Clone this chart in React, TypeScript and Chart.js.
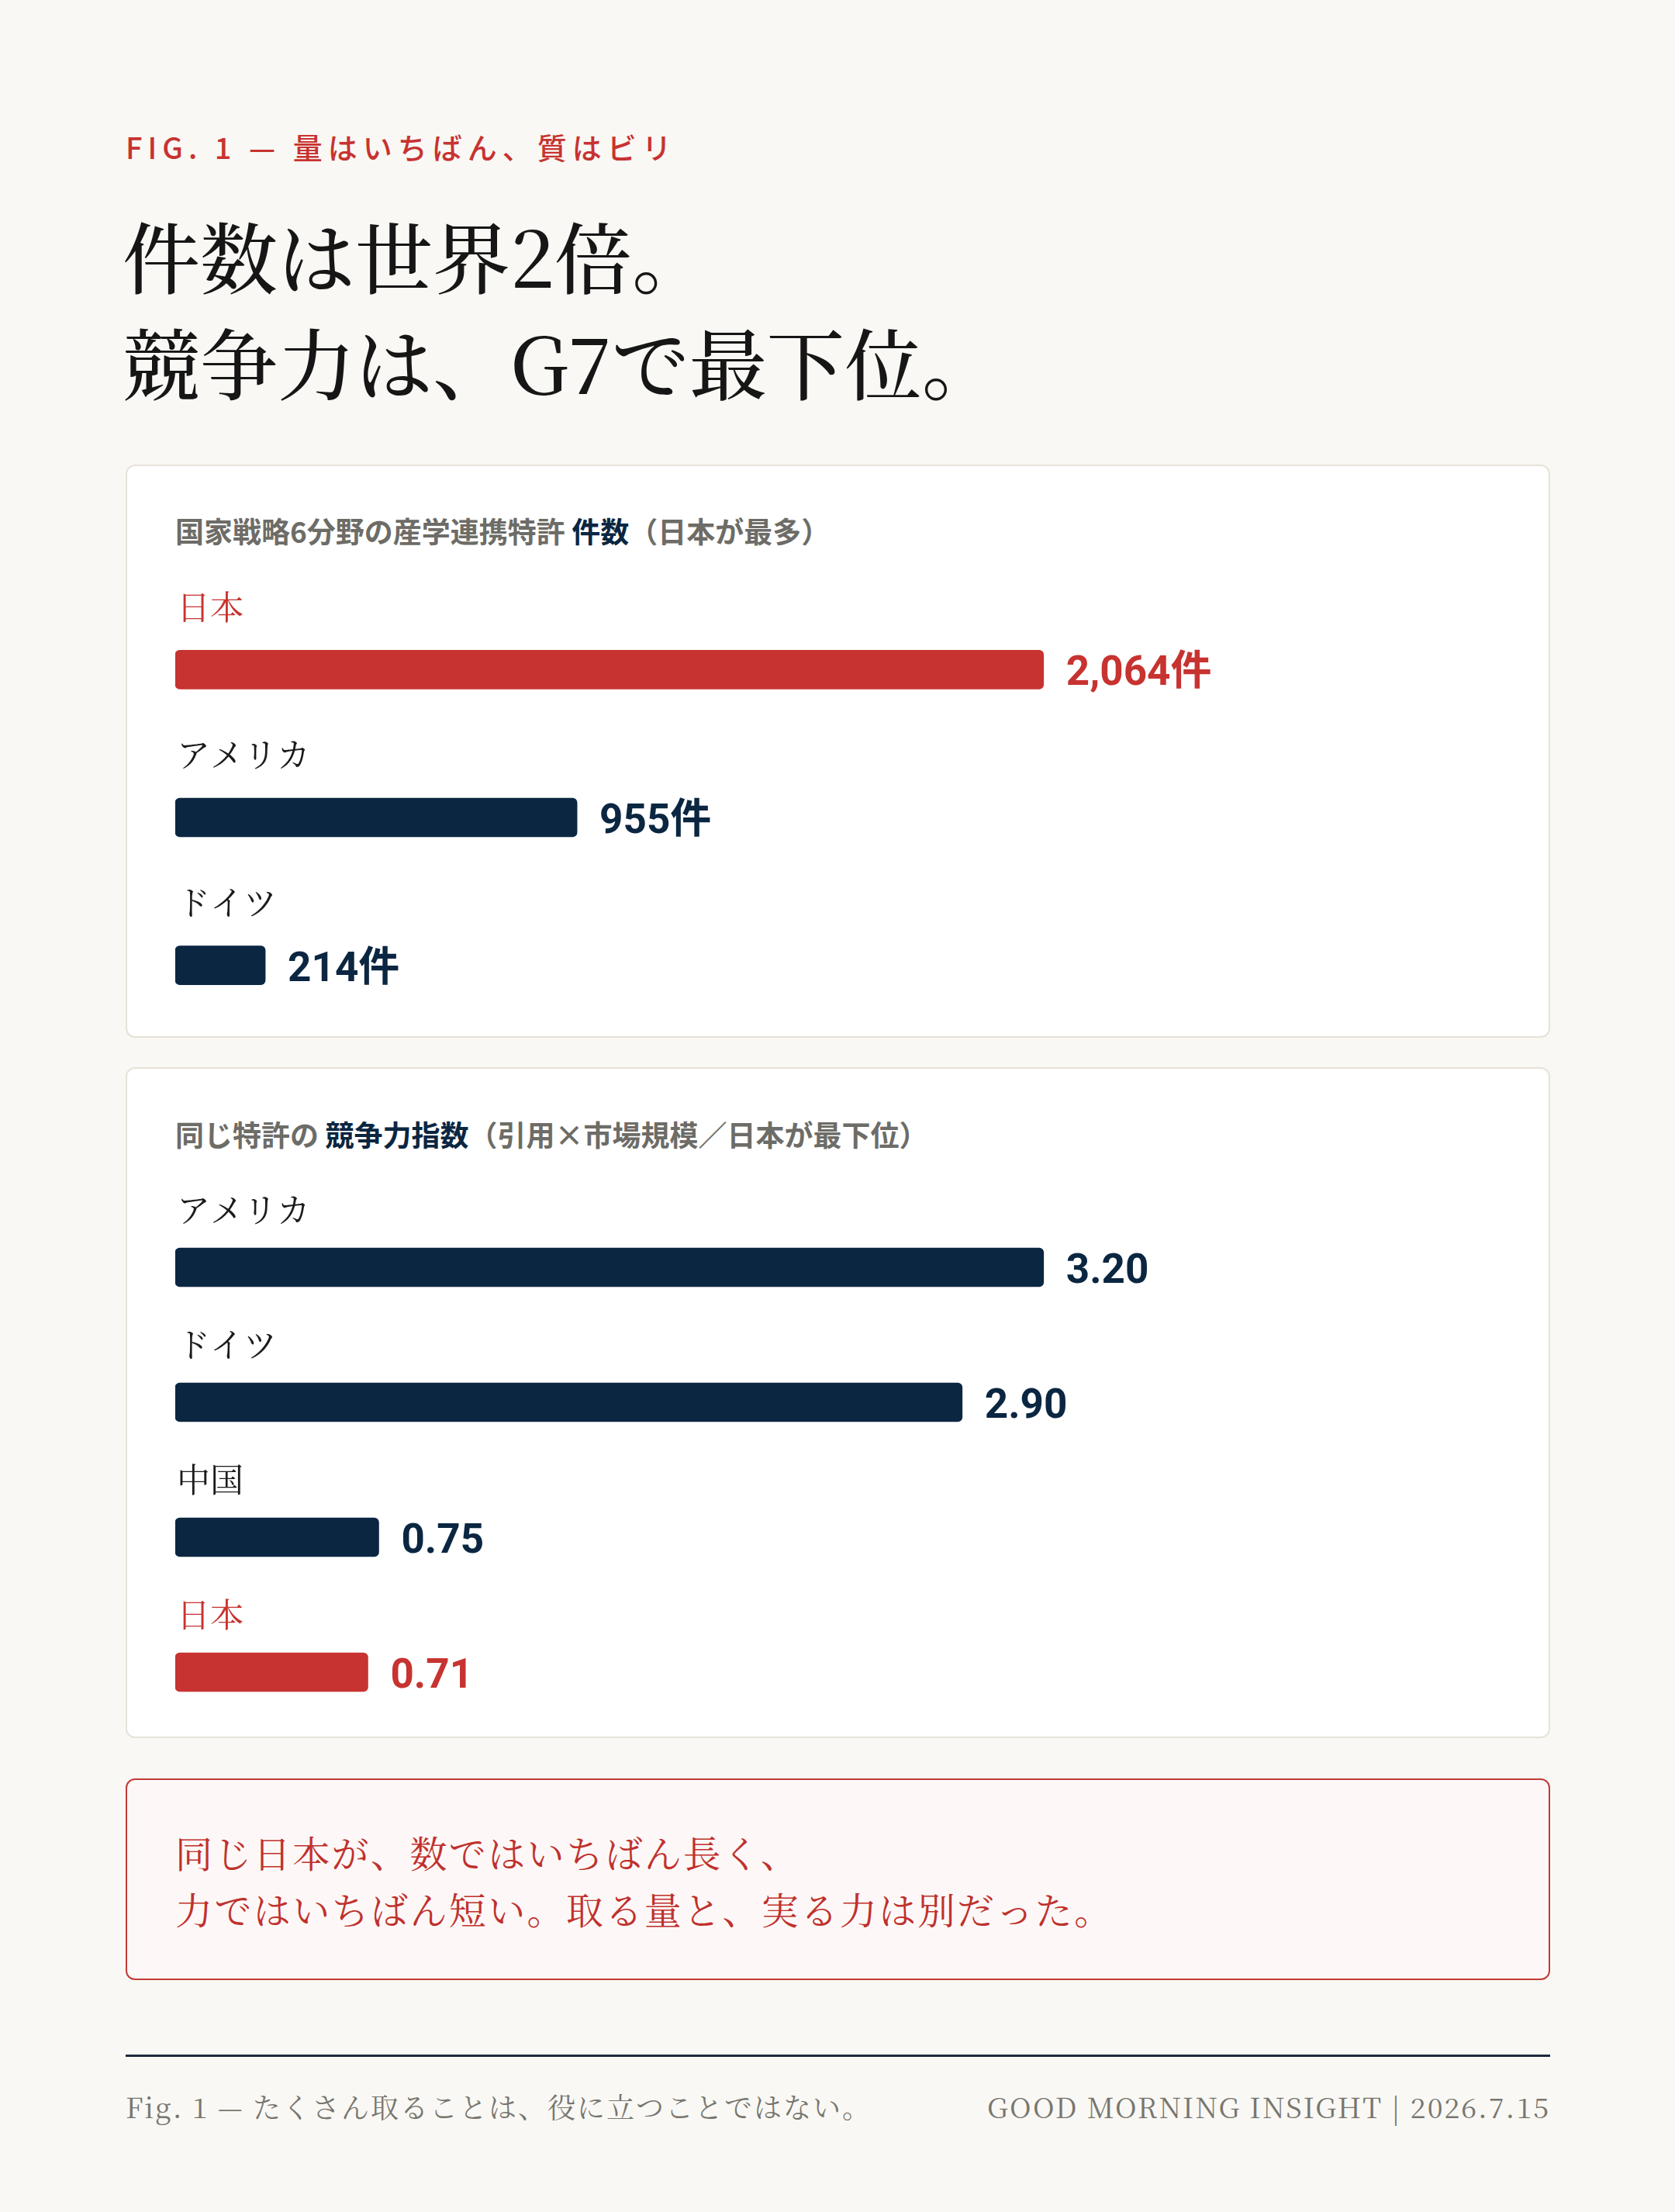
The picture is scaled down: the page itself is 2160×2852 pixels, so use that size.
import React, { useEffect, useRef } from 'react';
import { Chart, registerables } from 'chart.js';

Chart.register(...registerables);

// ---- data ----
const countLabels: string[] = ['日本', 'アメリカ', 'ドイツ'];
const countValues: number[] = [2064, 955, 214];
const indexLabels: string[] = ['アメリカ', 'ドイツ', '中国', '日本'];
const indexValues: number[] = [3.2, 2.9, 0.75, 0.71];
const highlightCountry = '日本';

// ---- styles ----
const RED = '#c73330';
const NAVY = '#0b2641';
const INK = '#1b1b1b';
const GRAY = '#6d6c67';
const BG = '#f9f8f4';
const SERIF = '"Noto Serif CJK JP", "Noto Serif JP", "IPAMincho", "Liberation Serif", serif';
const SANS = '"Noto Sans CJK JP", "Noto Sans", sans-serif';
const NUM = 'Roboto, "Noto Sans CJK JP", sans-serif';
const BAR_SHARE = 0.656;

type BarProps = {
  labels: string[];
  values: number[];
  fmt: (v: number) => string;
  left: number;
  top: number;
  width: number;
  height: number;
  padTop: number;
  labelOffset: number;
};

function BarChart(p: BarProps) {
  const ref = useRef<HTMLCanvasElement | null>(null);
  useEffect(() => {
    if (!ref.current) return;
    const rowLabels = {
      id: 'rowLabels',
      afterDatasetsDraw(chart: any) {
        const ctx = chart.ctx;
        const meta = chart.getDatasetMeta(0);
        const labels = chart.data.labels as string[];
        const data = chart.data.datasets[0].data as number[];
        meta.data.forEach((bar: any, i: number) => {
          const pr = bar.getProps(['x', 'y', 'base'], true);
          const isJ = labels[i] === highlightCountry;
          ctx.save();
          ctx.font = `400 43px ${SERIF}`;
          ctx.fillStyle = isJ ? RED : INK;
          ctx.textBaseline = 'middle';
          ctx.textAlign = 'left';
          ctx.fillText(labels[i], chart.chartArea.left + 2, pr.y - p.labelOffset);
          ctx.font = `700 53px ${NUM}`;
          ctx.fillStyle = isJ ? RED : NAVY;
          ctx.textBaseline = 'alphabetic';
          ctx.fillText(p.fmt(data[i]), pr.x + 29, pr.y + 20);
          ctx.restore();
        });
      },
    };
    const max = Math.max(...p.values);
    const chart = new Chart(ref.current, {
      type: 'bar',
      data: {
        labels: p.labels,
        datasets: [
          {
            data: p.values,
            backgroundColor: p.labels.map((l) => (l === highlightCountry ? RED : NAVY)),
            borderRadius: 6,
            borderSkipped: false,
            barThickness: 50,
          },
        ],
      },
      options: {
        indexAxis: 'y',
        animation: false,
        responsive: false,
        maintainAspectRatio: false,
        devicePixelRatio: 1,
        layout: { padding: { top: p.padTop, left: 0, right: 0, bottom: 0 } },
        scales: {
          x: { display: false, min: 0, max: max / BAR_SHARE },
          y: { display: false },
        },
        plugins: { legend: { display: false }, tooltip: { enabled: false } },
      },
      plugins: [rowLabels],
    });
    return () => chart.destroy();
  }, []);
  return (
    <canvas
      ref={ref}
      width={p.width}
      height={p.height}
      style={{ position: 'absolute', left: p.left, top: p.top, width: p.width, height: p.height }}
    />
  );
}

const abs = (l: number, t: number, extra: React.CSSProperties = {}): React.CSSProperties => ({
  position: 'absolute',
  left: l,
  top: t,
  ...extra,
});

export default function App() {
  useEffect(() => {
    document.body.style.margin = '0';
    document.body.style.background = BG;
    document.documentElement.style.overflow = 'hidden';
  }, []);

  const card: React.CSSProperties = {
    background: '#ffffff',
    border: '2px solid #e7e2d9',
    borderRadius: 12,
    boxSizing: 'border-box',
  };
  const header: React.CSSProperties = {
    fontFamily: SANS,
    fontWeight: 700,
    fontSize: 37,
    lineHeight: '48px',
    color: GRAY,
    whiteSpace: 'nowrap',
  };

  return (
    <div style={{ position: 'relative', width: 2160, height: 2852, background: BG, overflow: 'hidden' }}>
      <div
        style={abs(162, 170, {
          fontFamily: SANS,
          fontWeight: 500,
          fontSize: 38,
          lineHeight: '38px',
          letterSpacing: 7,
          color: RED,
          whiteSpace: 'nowrap',
        })}
      >
        FIG. 1 — 量はいちばん、質はビリ
      </div>
      <div
        style={abs(158, 260, {
          fontFamily: SERIF,
          fontWeight: 500,
          fontSize: 100,
          lineHeight: '137px',
          color: '#161616',
          whiteSpace: 'nowrap',
        })}
      >
        件数は世界2倍。
        <br />
        競争力は、G7で最下位。
      </div>

      <div style={abs(162, 599, { ...card, width: 1837, height: 739 })} />
      <div style={abs(226, 660, header)}>
        国家戦略6分野の産学連携特許 <span style={{ color: NAVY }}>件数</span>（日本が最多）
      </div>
      <BarChart
        labels={countLabels}
        values={countValues}
        fmt={(v) => v.toLocaleString('en-US') + '件'}
        left={226}
        top={740}
        width={1707}
        height={600}
        padTop={28}
        labelOffset={81}
      />

      <div style={abs(162, 1376, { ...card, width: 1837, height: 865 })} />
      <div style={abs(226, 1438, header)}>
        同じ特許の <span style={{ color: NAVY }}>競争力指数</span>（引用×市場規模／日本が最下位）
      </div>
      <BarChart
        labels={indexLabels}
        values={indexValues}
        fmt={(v) => v.toFixed(2)}
        left={226}
        top={1500}
        width={1707}
        height={743}
        padTop={47}
        labelOffset={74}
      />

      <div
        style={abs(162, 2293, {
          width: 1837,
          height: 260,
          boxSizing: 'border-box',
          border: '2px solid #c23b36',
          borderRadius: 12,
          background: '#fdf8f7',
        })}
      />
      <div
        style={abs(226, 2351, {
          fontFamily: SERIF,
          fontSize: 48,
          lineHeight: '73px',
          letterSpacing: 2.4,
          color: '#bf312d',
          whiteSpace: 'nowrap',
        })}
      >
        同じ日本が、数ではいちばん長く、
        <br />
        力ではいちばん短い。取る量と、実る力は別だった。
      </div>

      <div style={abs(162, 2649, { width: 1837, height: 3, background: '#1c2a3c' })} />
      <div
        style={abs(162, 2692, {
          fontFamily: SERIF,
          fontSize: 36,
          lineHeight: '48px',
          letterSpacing: 2,
          color: '#77766f',
          whiteSpace: 'nowrap',
        })}
      >
        Fig. 1 — たくさん取ることは、役に立つことではない。
      </div>
      <div
        style={abs(0, 2692, {
          width: 1999,
          textAlign: 'right',
          fontFamily: SERIF,
          fontSize: 36,
          lineHeight: '48px',
          letterSpacing: 2,
          color: '#77766f',
          whiteSpace: 'nowrap',
        })}
      >
        GOOD MORNING INSIGHT | 2026.7.15
      </div>
    </div>
  );
}
